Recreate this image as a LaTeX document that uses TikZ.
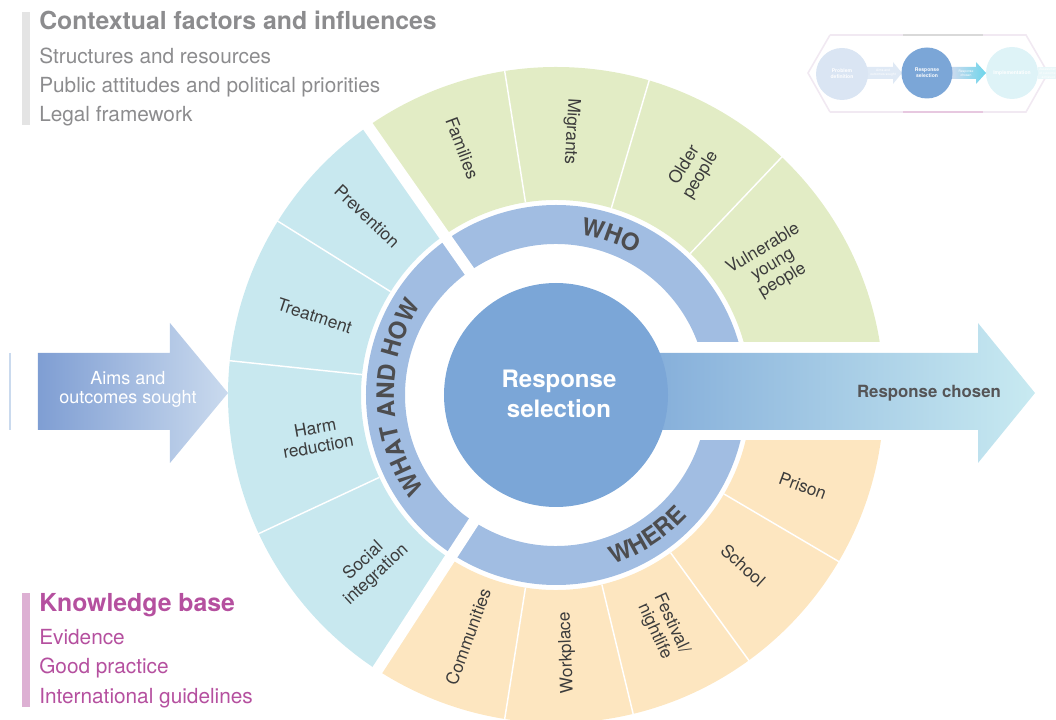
\documentclass[tikz,border=0pt]{standalone}
\usepackage{fontspec}
\setmainfont{TeX Gyre Heros}
\usetikzlibrary{decorations.text}
\definecolor{hubblue}{HTML}{7BA6D7}
\definecolor{bandblue}{HTML}{A1BDE2}
\definecolor{whogreen}{HTML}{E2ECC5}
\definecolor{howcyan}{HTML}{C8E8EF}
\definecolor{whereorange}{HTML}{FDE6C0}
\definecolor{labelgrey}{HTML}{3C3C3C}
\definecolor{bandgrey}{HTML}{4D4D4F}
\definecolor{contextgrey}{HTML}{8C8C8E}
\definecolor{contextbar}{HTML}{E4E4E4}
\definecolor{knowpink}{HTML}{B5509F}
\definecolor{knowbar}{HTML}{DDB0D3}
\definecolor{aimsleft}{HTML}{7F9ED3}
\definecolor{aimsright}{HTML}{CADAEE}
\definecolor{chosenleft}{HTML}{7FA9D8}
\definecolor{chosenright}{HTML}{C8EAF1}
\definecolor{chosentext}{HTML}{555557}
\definecolor{minihex}{HTML}{F1E9F2}
\newcommand{\ringpart}[5]{\fill[#1] (#2:#4) arc[start angle=#2, end angle=#3, radius=#4] -- (#3:#5) arc[start angle=#3, end angle=#2, radius=#5] -- cycle;}
\newcommand{\bandfont}{\bfseries\fontsize{18}{20}\selectfont\color{bandgrey}}
\tikzset{
    seglabel/.style={text=labelgrey, align=center, inner sep=0pt, font=\fontsize{13}{14}\selectfont},
    divider/.style={white, line width=1.1pt},
    sectorgap/.style={white, line width=8.5pt},
    ctxitem/.style={anchor=base west, inner sep=0pt, text=contextgrey, font=\fontsize{15.6}{18}\selectfont},
    knowitem/.style={anchor=base west, inner sep=0pt, text=knowpink, font=\fontsize{15.6}{18}\selectfont},
    minititle/.style={text=white, align=center, inner sep=0pt, font=\bfseries\fontsize{3.8}{4.4}\selectfont},
    miniarrow/.style={text=white, align=center, inner sep=0pt, font=\fontsize{2.5}{3}\selectfont},
}
\begin{document}
\begin{tikzpicture}[x=0.75pt, y=0.75pt]
\useasboundingbox (-556,-325) rectangle (500,395);

\ringpart{whogreen}{125}{0}{195}{328}
\ringpart{howcyan}{125}{237}{195}{328}
\ringpart{whereorange}{237}{360}{195}{328}
\ringpart{bandblue}{125}{0}{151}{190}
\ringpart{bandblue}{125}{237}{151}{190}
\ringpart{bandblue}{237}{360}{151}{190}
\foreach \a in {99,73.5,46.5,148,174,205,261,283.6,306,329.5}
    \draw[divider] (\a:195) -- (\a:330);
\foreach \a in {125,237}
    \draw[sectorgap] (\a:140) -- (\a:340);
\fill[white] (95,-45) rectangle (345,53);

\shade[left color=chosenleft, right color=chosenright] (60,42) -- (422,42) -- (422,72) -- (479,2) -- (422,-68) -- (422,-35) -- (60,-35) -- cycle;
\fill[hubblue] (0,0) circle[radius=112];
\node[text=white, align=center, font=\bfseries\fontsize{18}{22.5}\selectfont] (hub) at (3,1) {Response\\selection};
\node[text=chosentext, font=\bfseries\fontsize{12.6}{14}\selectfont] (chosen) at (373,2) {Response chosen};

\shade[left color=aimsleft, right color=aimsright] (-518,42) -- (-386,42) -- (-386,72) -- (-328,2) -- (-386,-68) -- (-386,-35) -- (-518,-35) -- cycle;
\draw[aimsright, line width=0.8pt] (-546,42) -- (-546,-35);
\node[text=white, align=center, font=\fontsize{13.5}{14.3}\selectfont] (aims) at (-428,6) {Aims and\\outcomes sought};

\path[decorate, decoration={text along path, text align=center, text={|\bandfont|WHO}}] (101:162) arc[start angle=101, end angle=41, radius=162];
\path[decorate, decoration={text along path, text align=center, text={|\bandfont|WHAT AND HOW}}] (232:162) arc[start angle=232, end angle=130, radius=162];
\path[decorate, decoration={text along path, text align=center, text={|\bandfont|WHERE}}] (263:179) arc[start angle=263, end angle=343, radius=179];

\node[seglabel, rotate=-69.2] (families) at (110.8:264) {Families};
\node[seglabel, rotate=-93.3] (migrants) at (86.7:264) {Migrants};
\node[seglabel, rotate=58.7] (older) at (58.7:263) {Older\\people};
\node[seglabel, rotate=31] (vulnerable) at (31:253) {Vulnerable\\young\\people};
\node[seglabel, rotate=-43.4] (prevention) at (136.6:260) {Prevention};
\node[seglabel, rotate=-18.2] (treatment) at (161.8:254) {Treatment};
\node[seglabel, rotate=10] (harm) at (190:243) {Harm\\reduction};
\node[seglabel, rotate=42.9] (social) at (222.9:254) {Social\\integration};
\node[seglabel, rotate=70] (communities) at (250:257) {Communities};
\node[seglabel, rotate=92.4] (workplace) at (272.4:258) {Workplace};
\node[seglabel, rotate=-65.3] (festival) at (294.7:256) {Festival/\\nightlife};
\node[seglabel, rotate=-42.3] (school) at (317.7:253) {School};
\node[seglabel, rotate=-20.2] (prison) at (339.8:263) {Prison};

\fill[contextbar] (-534,270) rectangle (-526,383);
\node[anchor=base west, inner sep=0pt, text=contextgrey, font=\bfseries\fontsize{18.6}{20}\selectfont] (context) at (-517,365) {Contextual factors and influences};
\foreach \txt/\yy [count=\i] in {Structures and resources/331, Public attitudes and political priorities/302, Legal framework/273}
    \node[ctxitem] (ctx\i) at (-517,\yy) {\txt};

\fill[knowbar] (-534,-312) rectangle (-526,-198);
\node[anchor=base west, inner sep=0pt, text=knowpink, font=\bfseries\fontsize{18.6}{20}\selectfont] (knowledge) at (-517,-217) {Knowledge base};
\foreach \txt/\yy [count=\i] in {Evidence/-249, Good practice/-278, International guidelines/-308}
    \node[knowitem] (know\i) at (-517,\yy) {\txt};

\draw[minihex, line width=1.2pt] (274,360) -- (252,322) -- (274,283);
\draw[minihex, line width=1.2pt] (274,360) -- (470,360) -- (492,322) -- (470,283) -- (274,283);
\draw[gray!30, line width=2pt] (347,360) -- (427,360);
\draw[knowbar!70, line width=2pt] (347,283) -- (427,283);
\fill[aimsright!60] (311,328) -- (337,328) -- (337,333) -- (346,322) -- (337,311) -- (337,316) -- (311,316) -- cycle;
\shade[left color=aimsright, right color=chosenright!50!cyan!60!hubblue] (396,328) -- (420,328) -- (420,333) -- (430,322) -- (420,311) -- (420,316) -- (396,316) -- cycle;
\fill[chosenright!40] (482,328) -- (520,328) -- (520,316) -- (482,316) -- cycle;
\fill[aimsright!70] (286,321) circle[radius=26];
\fill[hubblue] (371,322) circle[radius=25.5];
\fill[chosenright!60] (456,322) circle[radius=26];
\node[minititle] (miniproblem) at (286,321) {Problem\\definition};
\node[miniarrow] (miniaims) at (327,322) {Aims and\\outcomes sought};
\node[minititle] (miniselect) at (371,322) {Response\\selection};
\node[miniarrow] (minichosen) at (410,322) {Response\\chosen};
\node[minititle] (miniimpl) at (456,322) {Implementation};
\node[miniarrow, anchor=west] (miniassess) at (483,322) {Assessment\\of outcomes\\achieved};
\end{tikzpicture}
\end{document}
